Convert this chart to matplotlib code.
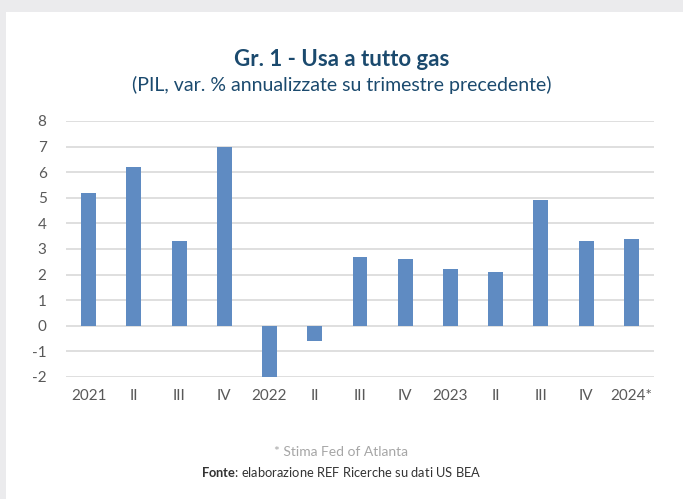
import matplotlib.pyplot as plt
import numpy as np

plt.rcParams['font.family'] = ['Lato', 'DejaVu Sans']
plt.rcParams['mathtext.fontset'] = 'custom'
plt.rcParams['mathtext.rm'] = 'Lato'
plt.rcParams['mathtext.bf'] = 'Lato:bold'

# GDP, annualized q/q % change
categories = ['2021', 'II', 'III', 'IV', '2022', 'II', 'III', 'IV',
              '2023', 'II', 'III', 'IV', '2024*']
values = [5.2, 6.2, 3.3, 7.0, -2.0, -0.6, 2.7, 2.6, 2.2, 2.1, 4.9, 3.3, 3.4]
yticks = list(range(-2, 9))

W, H = 683, 499
fig = plt.figure(figsize=(W / 100, H / 100), dpi=100)
fig.patch.set_facecolor('#ebebed')

# white panel
panel = fig.add_axes([6 / W, 0, 1 - 6 / W, 1 - 12 / H])
panel.set_facecolor('white')
panel.set_xticks([])
panel.set_yticks([])
for s in panel.spines.values():
    s.set_visible(False)

ax = fig.add_axes([66 / W, 1 - 377 / H, (654 - 66) / W, (377 - 121) / H])
ax.set_facecolor('none')
x = np.arange(len(categories))
ax.bar(x, values, width=0.33, color='#5f8bc2', zorder=3)
ax.set_xlim(-0.5, len(categories) - 0.5)
ax.set_ylim(-2, 8)
ax.set_yticks(yticks)
ax.set_yticklabels([str(v) for v in yticks])
ax.set_xticks(x)
ax.set_xticklabels(categories)
ax.grid(axis='y', color='#d9d9d9', linewidth=1.2, zorder=0)
ax.tick_params(length=0, labelsize=11, colors='#595959')
ax.tick_params(axis='y', pad=14)
ax.tick_params(axis='x', pad=9)
for s in ax.spines.values():
    s.set_visible(False)

fig.text(0.5, 1 - 66 / H, 'Gr. 1 - Usa a tutto gas', ha='center', va='baseline',
         fontsize=16, fontweight='bold', color='#1b4a6e')
fig.text(0.5, 1 - 91 / H, '(PIL, var. % annualizzate su trimestre precedente)',
         ha='center', va='baseline', fontsize=14, color='#1b4a6e')
fig.text(0.5, 1 - 452 / H, '* Stima Fed of Atlanta', ha='center', va='center',
         fontsize=10, color='#a6a6a6')
fig.text(0.5, 1 - 472 / H, r'$\bf{Fonte}$: elaborazione REF Ricerche su dati US BEA',
         ha='center', va='center', fontsize=9.3, color='#333333')

fig.savefig('out.png', dpi=100, facecolor=fig.get_facecolor())
